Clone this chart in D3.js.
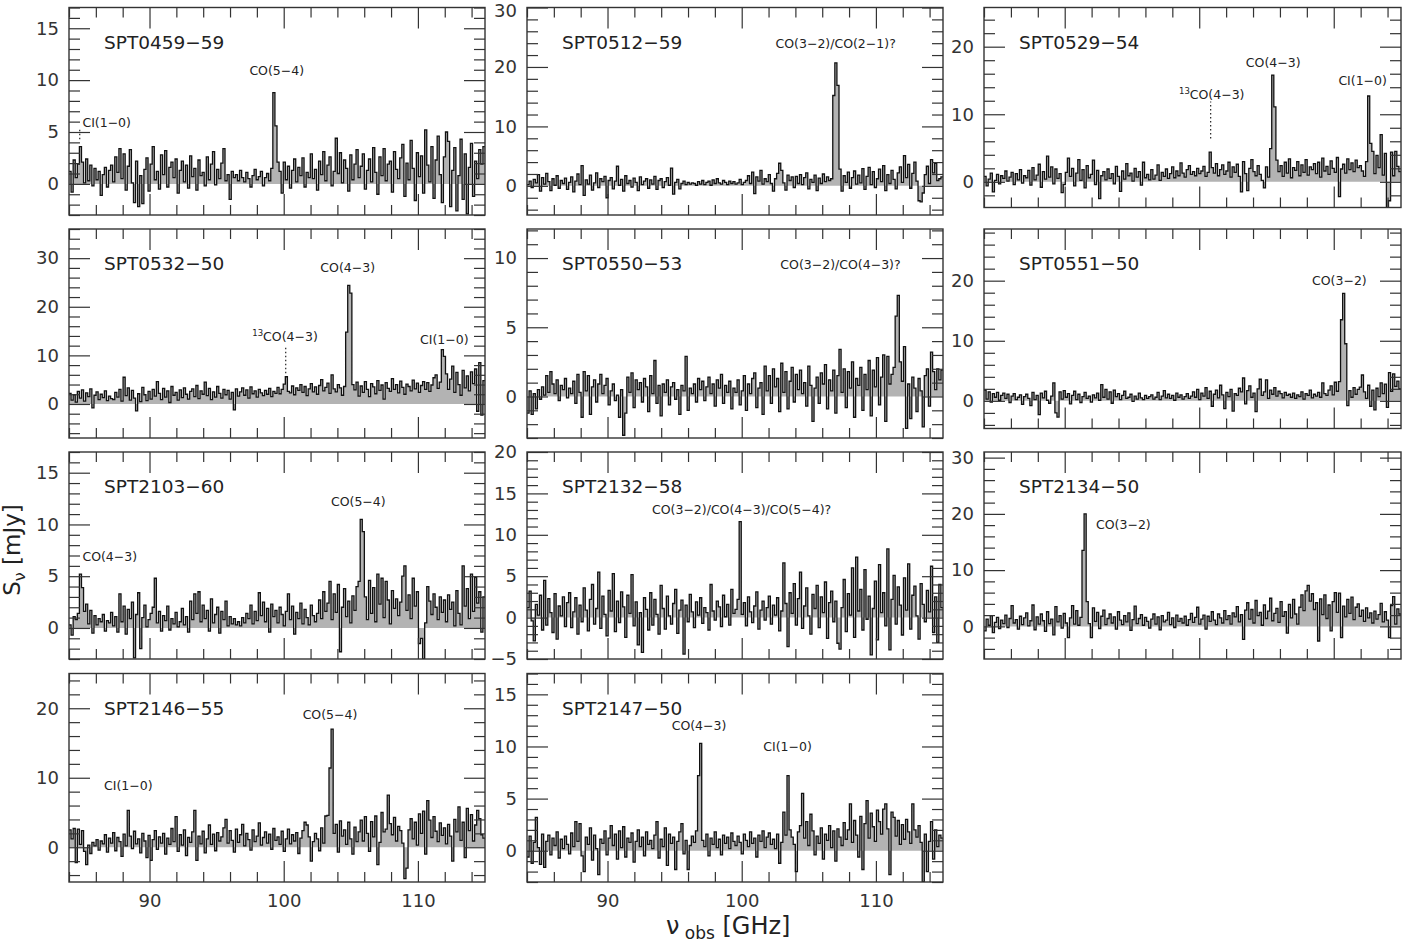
<!DOCTYPE html>
<html>
<head>
<meta charset="utf-8">
<script src="https://cdn.jsdelivr.net/npm/d3@7"></script>
<style>
  body { margin: 0; background: #fff; }
  svg { display: block; }
</style>
</head>
<body>
<svg id="chart" width="1403" height="945"></svg>
<script>
// channel grid of every spectrum (GHz)
const nuStart = 84, nuStep = 0.155;
const nuDomain = [84, 115];

const names = ["SPT0459−59", "SPT0512−59", "SPT0529−54", "SPT0532−50", "SPT0550−53", "SPT0551−50",
               "SPT2103−60", "SPT2132−58", "SPT2134−50", "SPT2146−55", "SPT2147−50"];

// flux density per channel, mJy (200 channels each)
const flux0459 = [
  1.2, -0.8, 2.3, 0.6, 1.9, 3.6, 2.1, 0.1, 2.4, 0.3, 1.8, -0.2, 1.5, 0.4, 1.2, -1.1, 0.9, 1.6, -0.3, 1.3,
  1.8, 0.2, 2.6, 1.1, 3.4, 0.5, 2.9, -0.6, 1.7, 3.3, 0.1, -1.8, 2.2, -2.2, 0.8, -1.9, 1.4, 2.5, -0.7, 1.9,
  3.6, 0.4, 1.2, -0.5, 2.8, 0.9, 3.2, -0.3, 1.6, 2.1, 0.6, 2.4, -0.9, 1.3, 2.2, 0.2, 1.8, -0.4, 2.7, 0.7,
  1.5, -0.6, 2.3, 0.8, 1.1, -0.2, 2.6, 0.4, 1.9, 3.1, -0.1, 1.4, 0.5, 2.0, 3.4, 0.3, 0.9, -1.5, 1.2, 0.6,
  0.9, 0.3, 1.3, 0.6, 0.2, 1.1, 0.5, -0.3, 0.8, 1.4, 0.4, 0.7, 1.2, -0.2, 0.6, 1.0, 0.3, 1.5, 8.8, 5.6,
  2.1, 1.2, -0.9, 2.1, 0.4, 1.7, -0.4, 1.3, 2.4, 0.2, 1.6, 0.8, 2.5, -0.3, 1.1, 0.6, 2.9, 0.5, 1.4, -0.6,
  2.2, 0.9, 3.1, 0.3, 1.8, 2.6, -0.2, 1.2, 4.4, 1.0, 3.0, 0.1, 2.3, 1.5, -0.7, 2.8, 0.4, 1.9, 3.3, 0.6,
  1.7, 2.9, -0.5, 1.3, 2.4, 0.2, 3.5, 1.1, -1.0, 2.6, 0.8, 3.4, 0.3, 1.9, 2.2, -0.8, 3.1, 1.4, 0.5, 2.5,
  3.8, -1.2, 2.0, 0.4, 4.2, 1.5, -1.6, 3.0, 0.7, 2.7, -0.9, 5.2, 1.8, 0.2, 3.6, -1.4, 2.3, 4.6, 0.9, -1.8,
  2.6, 5.0, 4.1, -2.2, 1.3, 3.5, -2.6, 0.8, 4.3, -1.5, 2.9, -2.9, 1.6, 3.9, -1.2, 2.2, 0.5, 3.3, 1.9, 3.6
];
const flux0512 = [
  0.2, 0.8, -0.3, 1.1, 0.5, 1.9, -0.9, 1.4, 0.3, 2.1, 0.7, -0.8, 1.2, 0.1, 1.7, -0.4, 0.9, 0.4, 1.3, -0.6,
  0.6, 1.5, -1.0, 0.8, 2.0, 0.2, 3.4, -1.6, 1.0, 0.3, 1.8, -0.7, 0.5, 2.2, -0.3, 1.2, 0.7, 1.6, -2.0, 0.9,
  1.4, -0.5, 0.8, 3.3, 0.1, 1.1, -0.9, 1.7, 0.4, 0.9, -0.2, 1.3, 0.6, -0.8, 1.5, 0.2, 0.8, 1.2, -0.4, 1.0,
  0.3, 1.6, -0.6, 0.9, 1.2, -0.3, 0.7, 1.4, 0.1, 3.0, -1.4, 0.6, 1.1, -0.5, 0.4, 0.8, 0.2, 0.6, 0.3, 0.5,
  0.4, 0.1, 0.7, 0.3, 0.9, 0.2, 0.6, 0.8, 0.1, 1.0, 0.4, 1.2, 0.5, 0.3, 0.9, 0.6, 0.2, 0.8, 0.4, 0.7,
  0.3, 0.5, 1.1, 0.2, 0.6, 0.9, 1.7, 0.4, 2.3, -1.3, 1.5, 0.8, 2.6, 0.3, 1.2, 0.7, 1.9, 0.4, -0.9, 1.2,
  2.1, 3.8, 2.6, 0.5, -0.7, 1.8, 0.9, 1.5, -0.3, 1.6, 0.4, 1.9, 0.2, 1.4, 2.2, -0.5, 1.1, 0.6, 1.8, -0.8,
  1.3, 0.4, 2.0, 0.7, 1.5, 0.9, 1.2, 15.2, 20.7, 16.9, 2.8, -0.9, 1.7, 0.6, 2.3, -0.4, 1.4, 2.5, 0.3, 1.8,
  0.5, 2.9, -0.6, 1.6, 3.1, 0.2, 2.4, -0.3, 1.2, 2.8, 0.7, 3.4, -0.8, 1.9, 0.4, 2.6, 1.1, -0.5, 2.2, 3.2,
  0.6, 5.1, 1.4, 3.6, -0.4, 2.1, 4.0, 0.8, -2.5, -2.7, -1.2, 1.9, 3.3, 0.4, 4.4, 2.2, 3.8, 0.9, 1.2, 1.5
];
const flux0529 = [
  0.8, -0.6, 0.4, 1.3, -1.5, 0.2, 1.1, -0.3, 0.9, 0.5, 1.6, 0.1, 0.7, 1.4, -0.4, 1.2, 0.3, 1.8, -0.2, 0.9,
  0.6, 1.7, -0.5, 2.1, 0.3, 1.0, 2.6, -0.8, 1.5, 0.4, 3.8, 0.7, 2.2, -0.3, 1.9, 0.5, 1.2, -1.6, -0.4, 1.4,
  3.5, 0.8, 2.0, -0.6, 1.3, 3.3, 0.2, 1.8, -0.9, 2.4, 0.6, 1.1, 3.2, -0.4, 1.7, -2.5, 0.9, 1.5, 0.3, 1.9,
  0.5, 1.2, -0.3, 2.3, 0.8, -1.4, 1.6, 0.4, 2.7, 0.9, 1.3, 0.1, 2.0, 0.7, 1.5, -0.5, 2.9, 0.6, 1.1, 0.3,
  1.8, 0.4, 1.0, 2.5, 0.2, 1.4, 0.8, 1.9, 0.5, 1.2, 2.2, 0.6, 1.6, 0.9, 2.8, 1.3, 0.7, 1.8, 2.4, 1.1,
  1.5, 0.9, 2.0, 1.2, 1.6, 2.3, 0.8, 1.4, 4.4, 2.1, 1.3, 2.7, 0.9, 1.8, 2.5, 1.1, 1.6, 2.9, 0.7, 2.2,
  1.4, 2.6, 0.8, -1.5, 3.0, 1.2, -1.3, 2.0, 3.3, 1.5, 0.9, 2.4, 1.1, 0.2, -0.9, 2.2, 0.7, 4.9, 15.8, 11.1,
  3.2, 1.5, 2.4, 0.8, 2.9, 1.3, 3.4, 0.6, 2.1, 1.7, 3.0, 0.9, 2.5, 1.4, 3.3, 1.0, 2.2, 1.8, 2.7, 1.2,
  2.9, 0.7, 3.5, 1.6, 2.3, 1.1, 3.1, 2.0, 1.4, 3.6, -2.2, 1.9, 2.6, 1.3, 3.4, 1.8, 2.8, 1.5, 3.2, 2.1,
  2.4, 1.6, 0.8, 3.0, 12.7, 5.7, 4.5, 1.2, 3.9, 2.1, 7.0, 1.0, 4.2, -4.5, -2.8, 4.4, 0.9, 4.5, 2.3, 1.5
];
const flux0532 = [
  2.2, 0.8, 1.9, 0.4, 2.6, 1.2, 2.9, 0.6, 2.3, 1.5, 3.1, -0.8, 1.8, 2.5, 0.9, 2.0, 1.3, 2.7, 0.7, 1.6,
  1.1, 0.9, 2.4, 1.4, 3.0, 0.6, 5.5, 1.7, 3.3, 0.8, 2.8, 1.2, -1.4, 2.1, 0.5, 3.4, 1.9, 0.7, 2.6, 1.0,
  3.0, 1.6, 4.6, 2.2, 0.9, 3.2, 1.4, 2.7, 0.3, 3.6, 1.8, 2.4, 0.8, 2.9, 1.3, 3.3, 2.0, 1.0, 2.6, 3.1,
  1.5, 3.8, 1.1, 2.7, 2.0, 4.5, 1.7, 3.2, 0.9, 2.5, 1.4, 3.6, 2.2, 1.2, 3.0, 1.9, 2.8, 1.0, 2.4, -1.2,
  3.1, 1.6, 2.5, 3.3, 1.8, 2.9, 1.2, 3.5, 2.1, 2.7, 1.4, 3.0, 2.3, 1.7, 2.8, 2.0, 3.2, 1.5, 2.6, 2.2,
  3.4, 2.1, 3.0, 4.1, 5.6, 2.6, 2.3, 3.7, 1.9, 3.3, 2.8, 4.0, 2.4, 3.6, 1.7, 3.1, 4.2, 2.5, 3.5, 2.0,
  3.8, 5.0, 2.7, 3.4, 4.3, 2.2, 6.0, 3.1, 2.5, 4.0, 3.3, 1.8, 3.6, 14.8, 24.4, 22.8, 4.0, 2.9, 4.5, 1.6,
  3.7, 2.4, 4.6, 3.0, 1.5, 4.2, 3.5, 2.1, 4.8, 2.8, 3.9, 1.0, 4.4, 3.2, 2.6, 5.2, 3.0, 4.0, 2.3, 4.7,
  3.4, 2.0, 4.1, 3.6, 2.7, 4.9, 3.1, 4.3, 2.4, 3.8, 4.6, 3.0, 4.4, 2.6, 3.9, 5.4, 6.0, 3.2, 4.5, 11.2,
  9.8, 6.2, 3.0, 5.1, 7.8, 2.4, 6.5, 4.0, 1.8, 6.9, 3.3, 5.8, 2.7, 6.6, 4.2, 7.2, -1.5, 8.5, -2.3, 4.8
];
const flux0550 = [
  -1.2, 0.4, -1.3, 0.2, -0.9, 0.5, -0.2, 0.7, 0.1, 1.5, 0.3, 1.8, 0.9, 0.2, 1.2, -0.3, 0.8, 0.5, 1.3, -0.1,
  0.6, 0.2, 1.1, -0.5, 1.6, 0.3, -1.5, 1.8, 0.4, 1.5, -1.3, 0.7, 1.2, -0.4, 0.9, 1.6, 0.2, 0.8, 1.3, -0.6,
  0.4, 0.9, -0.3, 0.1, -1.5, 0.5, -2.8, -1.2, 1.4, 0.3, 1.7, -0.8, 1.2, 0.5, 1.0, -0.4, 1.3, 0.7, -1.1, 1.5,
  0.2, 2.6, -0.5, 0.8, -1.4, 0.9, 0.3, 1.2, -0.6, 0.7, 1.0, -0.2, 0.5, -1.3, 0.8, 0.4, 2.9, -1.0, 0.6, 0.2,
  0.9, -0.4, 1.3, 0.5, 1.1, -0.3, 0.7, 1.4, 0.2, 0.9, -0.7, 1.2, 0.6, 1.6, -0.5, 0.8, 0.3, 1.1, -0.9, 0.6,
  0.3, 1.2, -0.6, 0.4, 1.5, -1.0, 0.9, 0.2, 1.3, 1.7, -0.8, 0.6, 1.0, -1.3, 2.2, 0.4, 1.5, -0.5, 2.0, 0.7,
  1.3, -1.1, 2.4, 0.3, 1.8, -0.9, 1.1, 2.1, -0.4, 1.6, 0.5, 1.9, 0.2, 1.0, -0.7, 2.2, 0.8, -1.8, 0.6, 1.4,
  -0.5, 1.7, 0.9, 2.3, -0.9, 1.2, 0.4, 1.9, -1.2, 1.5, 3.4, 0.3, 2.0, -0.8, 1.8, 0.6, 2.5, -1.5, 1.3, 0.8,
  2.1, -1.0, 1.6, 0.5, 2.6, -1.4, 1.9, 0.7, 2.8, -0.6, 1.4, 3.0, -1.8, 2.9, 0.9, 1.6, 2.1, 5.8, 7.3, 2.5,
  1.1, 3.6, -2.3, 0.9, -1.6, 1.4, 0.6, -1.1, 1.3, 0.4, -2.2, 1.5, 2.0, -0.7, 3.2, 1.8, 0.5, 2.0, 1.2, 1.9
];
const flux0551 = [
  1.8, 0.3, 1.5, -0.2, 1.2, 0.6, 1.4, 0.1, 0.9, 1.3, 0.4, 1.1, -0.3, 0.8, 1.2, 0.2, 0.6, 1.0, -0.6, 0.7,
  1.1, 0.4, -0.8, 1.4, 0.2, 0.9, -2.3, 1.3, 0.5, 1.6, 0.1, -0.4, 0.8, 3.0, -2.0, -2.7, 1.5, 0.3, 1.7, 0.6,
  1.2, -0.5, 0.9, 1.6, 0.2, 1.1, -0.3, 0.7, 1.4, 0.4, 0.8, -0.2, 1.0, 0.5, 1.3, 0.1, 2.7, 0.6, 1.9, 0.3,
  1.5, -0.4, 1.8, 0.7, 1.2, 0.2, 0.9, 1.6, 0.4, 0.6, 1.1, -0.1, 0.8, 0.3, 1.3, 0.5, 0.2, 0.9, 0.4, 0.7,
  1.0, 0.3, 0.6, 1.4, 0.2, 0.8, 1.7, 0.5, 1.1, 0.4, 0.9, 0.1, 1.3, 0.6, 1.0, 0.3, 0.7, 1.2, 0.4, 0.8,
  1.5, 0.6, 1.9, 0.2, 1.3, 0.8, 2.2, 0.4, 1.6, -0.9, 1.1, 1.8, 0.5, 2.6, 1.0, -1.3, 1.4, 0.7, 1.9, -1.7,
  1.2, 0.9, 2.1, 1.5, 3.8, -0.5, 1.7, 2.5, 0.6, 1.3, -1.8, 2.0, 3.6, 0.9, 1.5, 3.5, 0.4, 1.8, 1.1, 2.2,
  0.8, 1.6, 1.2, 0.5, 1.4, 0.9, 1.1, 0.6, 1.3, 0.4, 1.0, 0.7, 1.5, 0.3, 1.2, 0.9, 1.8, 0.5, 1.1, 0.8,
  1.4, 0.6, 3.0, 1.2, 0.9, 1.8, 2.5, 1.0, 3.1, 1.6, 3.2, 13.5, 17.9, 9.5, -0.8, 1.7, 0.6, 2.2, 1.1, 1.9,
  2.3, 4.3, 1.5, 0.4, 2.6, -0.9, 1.8, -1.5, 2.1, 0.7, 3.0, 1.2, 2.8, -1.1, 4.7, 1.6, 4.5, 2.4, 3.3, 2.0
];
const flux2103 = [
  0.3, -0.7, 1.1, 0.8, 1.4, 5.2, 3.9, 1.6, 2.3, 0.4, 1.7, -0.5, 1.2, 0.3, 0.9, 0.6, 1.3, -0.3, 0.7, 0.5,
  1.5, 0.2, 1.1, -0.4, 3.3, 0.6, 2.1, -0.6, 1.8, 0.9, 2.5, -2.9, 1.3, 3.4, -2.0, 1.0, 2.2, 0.1, 0.8, 1.4,
  2.0, 4.8, 0.5, 1.6, -0.3, 1.2, 0.7, 2.1, -0.2, 0.9, 0.4, 1.5, 0.1, 0.6, 1.9, 0.3, 1.1, -0.4, 2.6, 0.8,
  3.3, 1.4, 3.5, 0.6, 2.2, 0.9, 1.7, -0.3, 2.8, 0.5, 1.3, 2.0, -0.5, 1.6, 0.8, 2.6, 0.2, 1.1, 0.4, 0.9,
  0.3, 0.6, 0.2, 1.0, 0.5, 1.4, 0.9, 2.2, 0.4, 1.6, 0.7, 3.4, 1.2, 2.5, 0.6, 1.9, -0.4, 2.3, 1.1, 1.7,
  0.5, 2.0, 1.3, 0.2, 1.6, 3.3, 0.8, 2.1, -0.6, 1.5, 0.9, 2.4, 0.4, 1.8, 1.0, 0.3, 2.2, 1.2, 0.6, 1.4,
  2.7, 0.9, 3.5, 1.6, 2.4, 4.5, 0.8, 3.3, 1.5, 4.2, -2.3, 2.0, 3.8, 1.1, 2.6, 0.5, 3.1, 1.7, 4.0, 4.5,
  10.5, 9.3, 3.0, 0.8, 4.6, 1.4, 3.9, 0.6, 5.2, 2.3, 4.8, 1.0, 4.5, 2.7, 0.4, 3.6, 1.9, 2.8, 1.2, 2.5,
  5.0, 6.0, 1.7, 3.2, 0.9, 4.8, 2.1, 3.5, -1.5, -1.0, -3.0, 0.5, 4.0, 2.6, 1.3, 3.3, 2.0, 0.8, 3.0, 1.5,
  2.7, 0.6, 3.2, 1.8, 2.5, 0.2, 3.6, 1.4, 0.3, 6.0, 2.1, 3.8, 0.9, 5.2, 1.6, 4.9, 2.4, 3.5, -0.4, 3.0
];
const flux2132 = [
  1.2, 3.2, -0.4, -2.8, 1.6, 0.3, 2.7, -1.5, 4.5, -0.9, 2.3, 0.6, -1.8, 2.9, -2.6, 1.4, 0.2, 2.5, -1.1, 1.8,
  3.0, -1.2, 0.7, 2.4, -2.0, 1.5, -0.5, 3.6, 0.9, -1.6, 2.2, 4.0, -0.8, 1.1, 5.5, -1.3, 2.6, 0.4, -2.2, 3.3,
  0.8, 5.3, -1.7, 2.0, -0.6, 3.1, 1.3, -2.4, 2.7, 0.5, 5.2, -1.0, 1.9, -3.3, 0.6, -4.2, 2.4, 1.0, -1.5, 3.0,
  -0.9, 2.2, 0.4, -2.0, 3.9, 1.1, -1.4, 2.6, 0.2, -0.8, 1.7, 3.4, -1.9, 0.9, 2.1, -4.4, 1.5, -0.5, 2.8, 0.7,
  -1.2, 1.9, 0.3, 2.4, -0.7, 1.2, 0.6, -1.5, 4.0, 0.8, -0.3, 2.0, 1.3, -1.1, 2.7, 0.1, 1.6, -0.9, 3.4, 0.5,
  1.0, 2.2, 11.6, 0.4, 1.8, -1.0, 2.5, 0.7, -0.6, 1.4, 3.1, -1.4, 0.9, 2.0, -0.3, 1.2, 2.6, -0.8, 1.5, 0.3,
  2.4, -1.6, 0.8, 6.6, 1.7, -3.5, 3.0, 0.5, 4.1, -0.9, 2.3, 5.5, -1.3, 1.4, 3.6, 0.2, -2.0, 2.8, 1.1, 3.9,
  -1.2, 2.5, 0.6, 4.3, -2.5, 1.8, 3.2, -0.5, 2.0, -3.1, -3.8, 1.2, 4.6, -1.7, 2.9, 0.3, 6.0, -2.4, 7.3, 0.8,
  3.4, -1.5, 5.8, -0.2, 2.6, -4.5, 1.1, 4.4, -2.7, 6.4, 0.6, 3.0, -1.0, 8.3, -3.9, 2.2, 5.1, -0.8, 3.7, 1.5,
  -2.1, 4.8, 0.9, 6.5, -1.4, 2.7, 3.8, 0.2, -2.6, 4.1, 1.6, -0.5, 3.3, 0.7, 6.2, -1.8, 2.5, -3.0, 4.0, 1.2
];
const flux2134 = [
  -0.8, 1.3, 0.2, 1.9, -1.1, 0.7, 1.6, -0.4, 1.1, 0.5, 2.0, -0.2, 1.4, 3.7, 0.6, 1.2, -0.5, 1.8, 0.3, 1.5,
  2.4, 0.1, 1.0, 3.8, -0.6, 1.7, 0.4, 2.2, 1.0, -0.9, 2.6, 0.5, 1.3, -1.5, 3.5, 0.8, 1.9, -0.3, 2.3, 0.6,
  -2.0, 1.5, 3.7, 0.4, 2.8, 0.2, 1.6, 13.5, 20.0, 4.4, 0.5, -2.0, 3.3, 0.9, 2.5, -0.4, 1.8, 2.9, 0.3, 1.4,
  2.2, 0.6, 1.7, -0.5, 2.6, 1.1, 0.3, 1.9, 0.8, 2.4, -0.7, 1.2, 3.6, 0.5, 1.4, 2.1, 0.2, 1.6, 0.9, -0.3,
  1.3, 2.2, 0.4, 1.7, -0.6, 1.9, 0.8, 1.1, 2.5, 0.3, 1.5, -0.2, 2.0, 0.9, 1.4, 0.6, 1.8, 0.2, 1.2, 2.3,
  0.7, 1.6, 3.4, 0.4, 1.3, 2.0, -0.5, 1.8, 0.9, 2.6, 1.1, 0.3, 2.2, 1.5, 0.6, 2.8, 1.2, 1.9, 0.4, 2.4,
  1.7, 3.5, 0.8, 2.1, -2.3, 2.9, 4.2, 1.3, 3.0, 0.6, 4.6, 1.9, 2.5, 0.2, 3.8, 1.4, 2.7, 5.0, 1.0, 2.3,
  3.2, 0.7, 4.4, 1.8, 2.6, -1.2, 3.9, 1.5, 4.8, 2.2, 0.4, 3.4, 5.6, 2.8, 6.3, 7.3, 4.5, 5.8, 3.0, 4.2,
  -2.6, 4.9, 2.1, 5.6, 1.4, 3.8, -0.8, 4.4, 6.0, 2.5, 5.9, -2.0, 3.6, 1.7, 4.8, 2.3, 5.2, 1.2, 3.4, 4.0,
  1.8, 2.9, 0.9, 3.3, 1.5, 2.4, 0.6, 2.7, 1.3, 2.1, 4.1, 0.8, 2.6, 1.1, -2.0, 3.7, 5.3, 0.4, 3.1, 2.2
];
const flux2146 = [
  2.5, 1.2, 2.7, -2.2, 2.6, 0.4, 2.4, -0.6, -2.5, 0.3, -0.9, 0.7, 0.2, 1.1, -0.4, 0.9, 0.5, 1.8, -0.7, 1.3,
  0.6, 2.1, -0.5, 1.4, 0.8, -1.3, 1.9, 0.2, 5.3, 1.6, -0.2, 2.3, 0.5, 1.2, -0.8, 2.0, 0.9, -1.5, 1.7, -1.9,
  1.1, 2.4, -0.3, 1.5, 0.6, 2.0, -1.0, 1.3, 0.4, 2.7, 0.8, 4.4, -0.6, 1.8, 0.3, 2.5, -1.2, 1.4, 0.7, 2.2,
  5.3, -1.9, 1.6, 0.5, 2.3, -0.8, 1.2, 3.2, 0.4, 1.9, -0.5, 2.1, 0.9, 1.5, 2.8, 4.0, 0.6, 2.4, 1.0, -0.7,
  2.6, 0.7, 1.8, 3.3, 0.2, 2.0, 1.1, -0.4, 2.5, 0.8, 1.6, 3.5, 0.3, 1.4, 2.2, 0.6, 1.9, -0.3, 2.7, 1.0,
  1.5, 0.4, 2.3, -0.6, 1.2, 2.6, 0.5, 1.8, 0.9, 2.1, -0.9, 1.3, 2.4, 3.6, 3.2, 1.5, -2.0, 0.8, 2.0, 1.2,
  -0.5, 2.8, 0.6, 4.5, 4.6, 11.4, 17.0, 2.0, 3.3, -0.7, 3.8, 1.6, 2.5, 0.4, 3.6, 1.2, -1.0, 2.9, 0.8, 2.2,
  3.9, 0.9, 4.4, 2.0, -0.6, 3.7, 1.5, 4.5, -2.5, 0.7, 5.0, 2.2, 2.6, 7.5, 3.4, 1.8, 4.3, 0.9, 3.0, 2.4,
  0.6, -4.5, -3.0, 2.5, 4.1, 1.2, 3.6, 0.3, 4.8, 2.0, 5.2, -1.0, 6.7, 3.9, 1.4, 4.4, 2.3, 0.8, 3.5, 1.7,
  2.8, 0.5, 3.3, 1.6, -2.0, 4.0, 2.2, 5.8, 1.0, 3.6, -1.5, 5.6, 2.4, 4.7, 0.9, 3.2, 5.3, 4.1, 1.8, 1.3
];
const flux2147 = [
  -0.6, 1.4, -1.2, 0.8, 3.2, 0.3, -1.3, 1.6, -1.6, 0.9, 1.5, -0.4, 1.2, 0.5, 1.8, -0.7, 1.1, 0.2, 1.4, 0.6,
  -0.3, 1.7, 0.4, 2.8, 0.9, 2.6, -0.5, -2.0, 1.3, 0.6, 2.2, -0.9, 1.5, 0.2, -2.3, 1.1, 0.7, 1.9, -0.4, 1.2,
  2.4, 0.5, 1.6, -0.8, 1.9, 0.3, 2.3, -0.6, 1.2, 0.8, 1.7, -1.1, 0.9, 2.0, 0.4, 1.3, -0.5, 1.8, 0.6, 1.0,
  0.2, 1.5, 2.8, -0.7, 1.1, 0.4, 2.2, -1.4, 1.6, 0.7, 1.3, -1.8, 0.9, 1.8, 2.6, -0.3, 1.0, -1.8, 0.5, 1.4,
  0.8, 1.9, 7.2, 10.3, 1.0, 0.4, 1.6, -0.5, 1.2, 0.6, 1.8, 0.3, 1.1, -0.4, 1.5, 0.7, 1.3, 0.2, 1.7, 0.9,
  0.5, 1.4, 0.8, -0.3, 1.6, 1.0, 0.4, 1.8, 0.7, 1.2, -0.6, 1.5, 0.9, 1.9, 0.3, 1.3, 1.7, 0.6, 1.1, 0.2,
  1.6, -1.2, 0.8, 3.7, 1.5, 7.2, 2.0, 1.3, 0.6, -2.0, 1.8, 2.4, 5.5, 1.2, 2.8, 0.5, 3.5, 1.9, -0.4, 1.4,
  0.7, 2.2, -0.8, 1.6, 1.0, 2.4, 0.3, 1.9, -1.0, 2.1, 1.3, 0.5, 2.7, 1.1, 2.0, 4.5, 0.8, 2.9, 1.5, -0.6,
  3.3, -1.8, 2.6, 4.8, 1.2, 3.6, 2.3, 0.9, 3.9, 2.8, 1.6, 4.0, 4.5, 2.1, -2.3, 3.7, 3.2, 1.4, 2.9, 0.6,
  2.5, 1.1, 3.0, 1.8, 0.7, 4.5, 2.0, 1.3, 2.4, 0.8, -3.0, 1.6, -2.0, 0.9, 2.8, -0.8, 2.0, 0.4, 1.5, 1.2
];
const spectra = [flux0459, flux0512, flux0529, flux0532, flux0550, flux0551,
                 flux2103, flux2132, flux2134, flux2146, flux2147];

// y range (mJy) and major tick step of each panel
const yRanges = [[-3, 17], [-4.9, 30], [-3.8, 25.8], [-7, 36], [-3, 12.1], [-4.6, 28.6],
                 [-3, 17], [-5, 20], [-5.8, 31], [-5, 25], [-3, 17]];
const yMajor = [5, 10, 10, 10, 5, 10, 5, 5, 10, 10, 5];

// line identifications: label position (GHz, mJy)
const lineLabels = [
  [{ sup: "", text: "CI(1−0)", nu: 85.0, s: 5.5, anchor: "start" }, { sup: "", text: "CO(5−4)", nu: 99.48, s: 10.5 }],
  [{ sup: "", text: "CO(3−2)/CO(2−1)?", nu: 107.0, s: 23.2 }],
  [{ sup: "13", text: "CO(4−3)", nu: 100.93, s: 12.2 }, { sup: "", text: "CO(4−3)", nu: 105.5, s: 17.0 },
   { sup: "", text: "CI(1−0)", nu: 112.15, s: 14.3 }],
  [{ sup: "13", text: "CO(4−3)", nu: 100.1, s: 13.0 }, { sup: "", text: "CO(4−3)", nu: 104.77, s: 27.1 },
   { sup: "", text: "CI(1−0)", nu: 111.97, s: 12.3 }],
  [{ sup: "", text: "CO(3−2)/CO(4−3)?", nu: 107.36, s: 9.2 }],
  [{ sup: "", text: "CO(3−2)", nu: 110.42, s: 19.3 }],
  [{ sup: "", text: "CO(4−3)", nu: 85.0, s: 6.5, anchor: "start" }, { sup: "", text: "CO(5−4)", nu: 105.56, s: 11.8 }],
  [{ sup: "", text: "CO(3−2)/CO(4−3)/CO(5−4)?", nu: 99.99, s: 12.5 }],
  [{ sup: "", text: "CO(3−2)", nu: 92.33, s: 17.3, anchor: "start" }],
  [{ sup: "", text: "CI(1−0)", nu: 86.61, s: 8.3, anchor: "start" }, { sup: "", text: "CO(5−4)", nu: 103.45, s: 18.4 }],
  [{ sup: "", text: "CO(4−3)", nu: 96.82, s: 11.6 }, { sup: "", text: "CI(1−0)", nu: 103.42, s: 9.6 }]
];
// dotted markers for tentative lines: [GHz, from mJy, to mJy]
const lineMarkers = [[[84.8, 4.3, 5.3]], [], [[100.85, 6.4, 11.9]], [[100.15, 6.3, 12.1]], [], [], [], [], [], [], []];

// layout: panel boxes [x0, x1, y0, y1] in pixels
const boxes = [
  [69, 485, 7.5, 215], [527, 943, 7.5, 215], [984, 1401, 7.5, 207.5],
  [69, 485, 229, 438], [527, 943, 229, 438], [984, 1401, 229, 428.5],
  [69, 485, 452, 659], [527, 943, 452, 659], [984, 1401, 452, 659],
  [69, 485, 673.5, 882], [527, 943, 673.5, 882]
];
const withXLabels = [9, 10];

const svg = d3.select("#chart");
const font = "'DejaVu Sans', 'Liberation Sans', sans-serif";
const ink = "#222";

names.forEach((name, k) => {
  const [x0, x1, y0, y1] = boxes[k];
  const x = d3.scaleLinear().domain(nuDomain).range([x0, x1]);
  const y = d3.scaleLinear().domain(yRanges[k]).range([y1, y0]);
  const flux = spectra[k];

  const pts = flux.map((v, i) => [nuStart + i * nuStep, v]);
  pts.push([nuStart + flux.length * nuStep, flux[flux.length - 1]]);

  const g = svg.append("g");
  const clipId = "clip" + k;
  g.append("clipPath").attr("id", clipId)
    .append("rect").attr("x", x0).attr("y", y0).attr("width", x1 - x0).attr("height", y1 - y0);

  const plot = g.append("g").attr("clip-path", `url(#${clipId})`);
  plot.append("path")
    .attr("d", d3.area().curve(d3.curveStepAfter)
      .x(d => x(d[0])).y0(y(0)).y1(d => y(d[1]))(pts))
    .attr("fill", "#b3b3b3");
  plot.append("path")
    .attr("d", d3.line().curve(d3.curveStepAfter)
      .x(d => x(d[0])).y(d => y(d[1]))(pts))
    .attr("fill", "none")
    .attr("stroke", "#111")
    .attr("stroke-width", 1.3);

  // ticks
  const xMaj = [90, 100, 110];
  const xMin = d3.range(84, 116, 2).filter(v => v % 10 !== 0);
  const step = yMajor[k], mstep = step === 5 ? 1 : 2;
  const [ya, yb] = yRanges[k];
  const yMaj = d3.range(Math.ceil(ya / step) * step, yb + 0.001, step);
  const yMin = d3.range(Math.ceil(ya / mstep) * mstep, yb + 0.001, mstep).filter(v => v % step !== 0);

  const axes = g.append("g").attr("color", "#333");
  const strip = sel => {
    sel.select(".domain").remove();
    sel.selectAll("line").attr("stroke-width", 1.2);
  };
  const showX = withXLabels.includes(k);
  axes.append("g").attr("transform", `translate(0,${y1})`)
    .call(d3.axisBottom(x).tickValues(xMaj).tickSize(-21).tickPadding(12)
      .tickFormat(showX ? d3.format("d") : ""))
    .call(strip);
  axes.append("g").attr("transform", `translate(0,${y1})`)
    .call(d3.axisBottom(x).tickValues(xMin).tickSize(-10).tickFormat("")).call(strip);
  axes.append("g").attr("transform", `translate(0,${y0})`)
    .call(d3.axisTop(x).tickValues(xMaj).tickSize(-21).tickFormat("")).call(strip);
  axes.append("g").attr("transform", `translate(0,${y0})`)
    .call(d3.axisTop(x).tickValues(xMin).tickSize(-10).tickFormat("")).call(strip);
  const yLeft = axes.append("g").attr("transform", `translate(${x0},0)`)
    .call(d3.axisLeft(y).tickValues(yMaj).tickSize(-21).tickPadding(10).tickFormat(d3.format("d")))
    .call(strip);
  // a label sitting on the top edge of the figure is nudged down to stay visible
  yLeft.selectAll(".tick text").attr("y", d => Math.max(0, 11 - y(d)));
  axes.append("g").attr("transform", `translate(${x0},0)`)
    .call(d3.axisLeft(y).tickValues(yMin).tickSize(-11).tickFormat("")).call(strip);
  axes.append("g").attr("transform", `translate(${x1},0)`)
    .call(d3.axisRight(y).tickValues(yMaj).tickSize(-21).tickFormat("")).call(strip);
  axes.append("g").attr("transform", `translate(${x1},0)`)
    .call(d3.axisRight(y).tickValues(yMin).tickSize(-11).tickFormat("")).call(strip);
  axes.selectAll("text").attr("font-size", 18).attr("font-family", font).attr("fill", "#333");

  g.append("rect")
    .attr("x", x0).attr("y", y0).attr("width", x1 - x0).attr("height", y1 - y0)
    .attr("fill", "none").attr("stroke", "#333").attr("stroke-width", 1.4);

  g.append("text")
    .attr("x", x0 + 35).attr("y", y0 + 41)
    .attr("font-family", font).attr("font-size", 18.5).attr("fill", ink)
    .text(name);

  lineMarkers[k].forEach(([nu, a, b]) => {
    g.append("line")
      .attr("x1", x(nu)).attr("x2", x(nu)).attr("y1", y(a)).attr("y2", y(b))
      .attr("stroke", "#222").attr("stroke-width", 1.2).attr("stroke-dasharray", "1.5,2.5");
  });

  lineLabels[k].forEach(l => {
    const t = g.append("text")
      .attr("x", x(l.nu)).attr("y", y(l.s))
      .attr("text-anchor", l.anchor || "middle")
      .attr("font-family", font).attr("font-size", 12.5).attr("fill", ink);
    if (l.sup) {
      t.append("tspan").attr("font-size", 8.5).attr("dy", -5).text(l.sup);
      t.append("tspan").attr("dy", 5).text(l.text);
    } else {
      t.text(l.text);
    }
  });
});

// axis titles
const yTitle = svg.append("text")
  .attr("transform", "translate(20,550) rotate(-90)")
  .attr("text-anchor", "middle")
  .attr("font-family", font).attr("font-size", 23).attr("fill", ink);
yTitle.append("tspan").text("S");
yTitle.append("tspan").attr("font-size", 16).attr("dy", 5).text("ν");
yTitle.append("tspan").attr("dy", -5).text(" [mJy]");

const xTitle = svg.append("text")
  .attr("x", 666).attr("y", 934)
  .attr("font-family", font).attr("font-size", 24).attr("fill", ink);
xTitle.append("tspan").text("ν");
xTitle.append("tspan").attr("font-size", 17).attr("dy", 5).text(" obs");
xTitle.append("tspan").attr("dy", -5).text(" [GHz]");
</script>
</body>
</html>
